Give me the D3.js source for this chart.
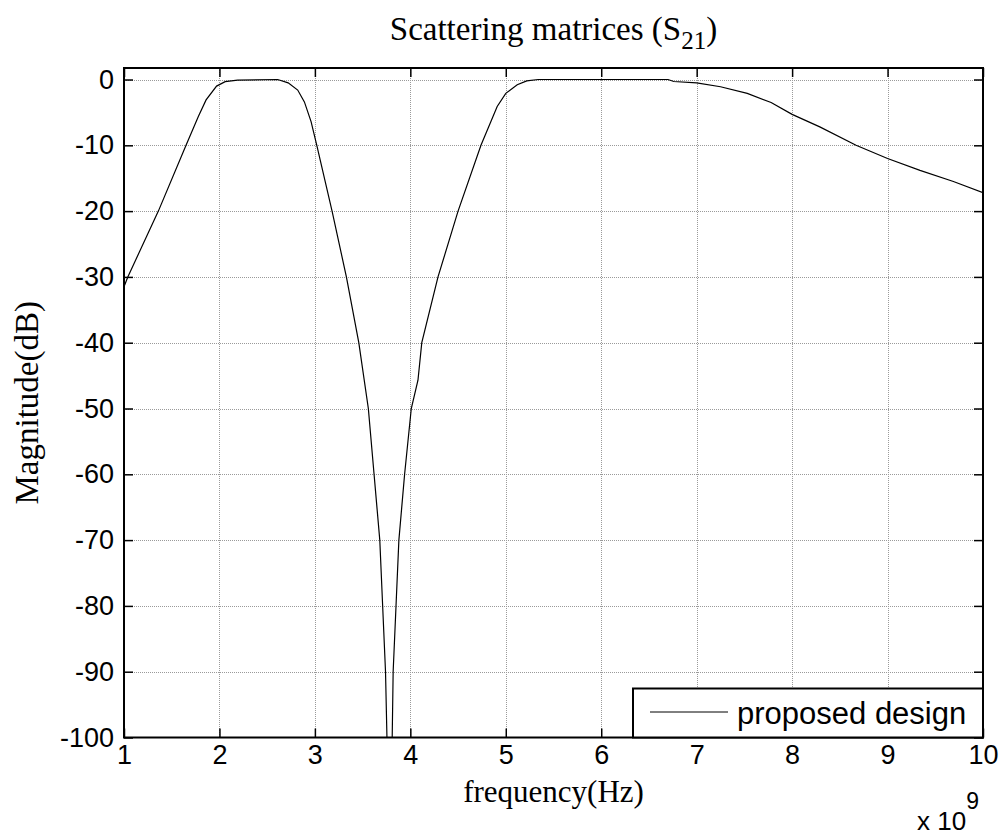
<!DOCTYPE html>
<html>
<head>
<meta charset="utf-8">
<script src="https://cdn.jsdelivr.net/npm/d3@7"></script>
<style>
  body { margin: 0; background: #fff; }
  svg { display: block; }
</style>
</head>
<body>
<div id="vis"></div>
<script>
// S21 magnitude (frequency in GHz, magnitude in dB)
const freqGHz = [1.00, 1.04, 1.36, 1.65, 1.78, 1.86, 1.97, 2.06, 2.19, 2.61, 2.72, 2.82, 2.89, 2.96, 3.02,
  3.18, 3.33, 3.46, 3.56, 3.62, 3.68, 3.71, 3.74, 3.755, 3.81, 3.82, 3.85, 3.88, 3.94, 4.01, 4.08, 4.12,
  4.29, 4.50, 4.74, 4.91, 5.00, 5.12, 5.22, 5.34, 6.70, 6.76, 7.00, 7.25, 7.53, 7.78, 8.00, 8.29, 8.67,
  9.00, 9.34, 9.69, 10.00];
const magDb = [-31.5, -30, -20, -10, -5.6, -3.1, -1.0, -0.33, -0.1, 0, -0.5, -1.6, -3.4, -6.4, -10,
  -20, -30, -40, -50, -60, -70, -80, -90, -100, -100, -90, -80, -70, -60, -50, -45.7, -40,
  -30, -20, -10, -4.1, -2.1, -0.8, -0.2, 0, 0, -0.3, -0.5, -1.1, -2.1, -3.5, -5.3, -7.2, -10,
  -12.0, -13.8, -15.5, -17.2];

const xTicks = [1, 2, 3, 4, 5, 6, 7, 8, 9, 10];
const yTicks = [0, -10, -20, -30, -40, -50, -60, -70, -80, -90, -100];
const seriesName = "proposed design";

const WIDTH = 1007, HEIGHT = 837;
const LEFT = 124, RIGHT = 983, TOP = 68, BOTTOM = 737.5;
const SANS = "'Liberation Sans', Arial, sans-serif";
const SERIF = "'Liberation Serif', 'Times New Roman', serif";

const svg = d3.select("#vis").append("svg").attr("width", WIDTH).attr("height", HEIGHT);

const x = d3.scaleLinear().domain([1, 10]).range([LEFT, RIGHT]);
const y = d3.scaleLinear().domain([-100, 1.75]).range([BOTTOM, TOP]);

const points = freqGHz.map((f, i) => ({ f: f, m: magDb[i] }));

// grid
const grid = svg.append("g").attr("stroke", "#9a9a9a").attr("stroke-width", 1).attr("stroke-dasharray", "1,1");
grid.selectAll(".gx").data(xTicks.slice(1, -1)).enter().append("line")
  .attr("x1", d => Math.round(x(d)) + 0.5).attr("x2", d => Math.round(x(d)) + 0.5)
  .attr("y1", TOP).attr("y2", BOTTOM);
grid.selectAll(".gy").data(yTicks.slice(0, -1)).enter().append("line")
  .attr("y1", d => Math.round(y(d)) + 0.5).attr("y2", d => Math.round(y(d)) + 0.5)
  .attr("x1", LEFT).attr("x2", RIGHT);

// curve
svg.append("clipPath").attr("id", "clip").append("rect")
  .attr("x", LEFT).attr("y", TOP).attr("width", RIGHT - LEFT).attr("height", BOTTOM - TOP);

const line = d3.line().x(d => x(d.f)).y(d => y(d.m));
svg.append("path").datum(points)
  .attr("clip-path", "url(#clip)")
  .attr("fill", "none").attr("stroke", "#000").attr("stroke-width", 1.2)
  .attr("d", line);

// axes (ticks inside, on all four sides); MATLAB uses a plain hyphen for minus
const fmt = d => String(d);
const TICK = 9;
const axB = svg.append("g").attr("transform", `translate(0,${BOTTOM})`)
  .call(d3.axisBottom(x).tickValues(xTicks).tickSize(-TICK).tickPadding(7).tickFormat(fmt));
const axT = svg.append("g").attr("transform", `translate(0,${TOP})`)
  .call(d3.axisTop(x).tickValues(xTicks).tickSize(-TICK).tickFormat(""));
const axL = svg.append("g").attr("transform", `translate(${LEFT},0)`)
  .call(d3.axisLeft(y).tickValues(yTicks).tickSize(-TICK).tickPadding(10).tickFormat(fmt));
const axR = svg.append("g").attr("transform", `translate(${RIGHT},0)`)
  .call(d3.axisRight(y).tickValues(yTicks).tickSize(-TICK).tickFormat(""));

[axB, axT, axL, axR].forEach(a => {
  a.select(".domain").remove();
  a.selectAll(".tick line").attr("stroke", "#000").attr("stroke-width", 1.5);
  a.selectAll("text").attr("font-family", SANS).attr("font-size", 27).attr("fill", "#000");
});
axB.selectAll("text").attr("dy", "0.71em");

svg.append("rect").attr("x", LEFT).attr("y", TOP).attr("width", RIGHT - LEFT).attr("height", BOTTOM - TOP)
  .attr("fill", "none").attr("stroke", "#000").attr("stroke-width", 2);

// exponent label
const expo = svg.append("text").attr("x", 917).attr("y", 830)
  .attr("font-family", SANS).attr("font-size", 26).attr("fill", "#000");
expo.append("tspan").text("x 10");
expo.append("tspan").attr("dy", -21).attr("font-size", 23).text("9");

// titles
const title = svg.append("text").attr("x", (LEFT + RIGHT) / 2).attr("y", 40)
  .attr("text-anchor", "middle").attr("font-family", SERIF).attr("font-size", 33).attr("fill", "#000");
title.append("tspan").text("Scattering matrices (S");
title.append("tspan").attr("dy", 9).attr("font-size", 25).text("21");
title.append("tspan").attr("dy", -9).text(")");

svg.append("text").attr("x", (LEFT + RIGHT) / 2).attr("y", 802)
  .attr("text-anchor", "middle").attr("font-family", SERIF).attr("font-size", 31).attr("fill", "#000")
  .text("frequency(Hz)");

svg.append("text").attr("transform", `translate(38,${(TOP + BOTTOM) / 2}) rotate(-90)`)
  .attr("text-anchor", "middle").attr("font-family", SERIF).attr("font-size", 33).attr("fill", "#000")
  .text("Magnitude(dB)");

// legend
const LW = 350, LH = 49;
const legend = svg.append("g").attr("transform", `translate(${RIGHT - LW},${BOTTOM - LH})`);
legend.append("rect").attr("width", LW).attr("height", LH)
  .attr("fill", "#fff").attr("stroke", "#000").attr("stroke-width", 2);
legend.append("line").attr("x1", 17).attr("x2", 95).attr("y1", 23.5).attr("y2", 23.5)
  .attr("stroke", "#000").attr("stroke-width", 1);
legend.append("text").attr("x", 104).attr("y", 35)
  .attr("font-family", SANS).attr("font-size", 31).attr("fill", "#000").text(seriesName);
</script>
</body>
</html>
